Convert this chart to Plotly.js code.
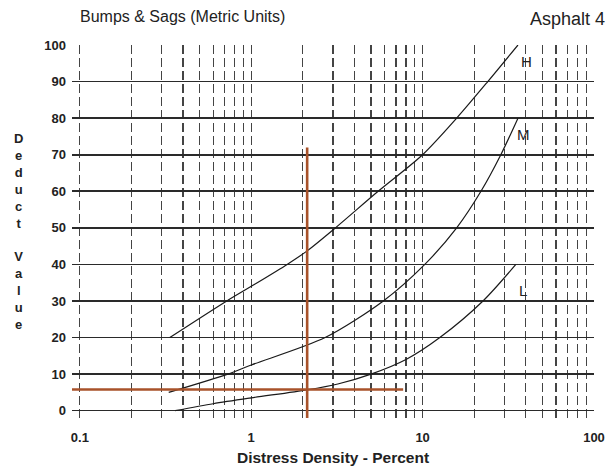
<!DOCTYPE html>
<html>
<head>
<meta charset="utf-8">
<script src="https://cdn.plot.ly/plotly-3.0.1.min.js"></script>
<style>html,body{margin:0;padding:0;background:#fff;}#chart{width:611px;height:470px;}</style>
</head>
<body>
<div id="chart"></div>
<script>
// Curve data (x = distress density %, y = deduct value)
const highX = [0.335, 0.72, 1.0, 1.62, 2.12, 3.1, 5.5, 10.0, 15.8, 24, 36];
const highY = [20, 30, 34, 40, 43.7, 50, 60, 70, 80, 90, 100];
const medX = [0.33, 0.73, 1.0, 2.7, 5.9, 10.3, 15.8, 21.9, 28.6, 36];
const medY = [5, 10, 12.5, 20, 30, 40, 50, 60, 70, 80];
const lowX = [0.36, 0.6, 1.0, 2.12, 3.2, 5.0, 8, 12.6, 22.5, 35];
const lowY = [0, 1.9, 3.5, 5.7, 7.3, 10, 14, 20, 30, 40];
// Reading construction lines (orange)
const readVertX = [2.12, 2.12];
const readVertY = [-2, 72];
const readHorzX = [0.09, 7.7];
const readHorzY = [5.8, 5.8];
// Severity labels
const sevLabels = ['H', 'M', 'L'];
const sevX = [40.5, 39, 38.5];
const sevY = [95.5, 75.5, 33];
// Axis ticks
const gridX = [];
[0.1, 1, 10].forEach(d => { for (let k = 1; k <= 9; k++) gridX.push(+(d * k).toFixed(3)); });
gridX.push(100);
const majorX = [0.1, 1, 10, 100];
const gridText = gridX.map(v => majorX.includes(v) ? String(v) : '');
const yTicks = [0, 10, 20, 30, 40, 50, 60, 70, 80, 90, 100];

const lineStyle = {color: '#1a1a1a', width: 1.2, shape: 'spline', smoothing: 0.8};
const orange = {color: '#a8522a', width: 2.6};

const traces = [
  {x: highX, y: highY, mode: 'lines', line: lineStyle, hoverinfo: 'skip'},
  {x: medX, y: medY, mode: 'lines', line: lineStyle, hoverinfo: 'skip'},
  {x: lowX, y: lowY, mode: 'lines', line: lineStyle, hoverinfo: 'skip'},
  {x: readVertX, y: readVertY, mode: 'lines', line: orange, hoverinfo: 'skip'},
  {x: readHorzX, y: readHorzY, mode: 'lines', line: orange, hoverinfo: 'skip'}
];

const font = {family: '"Liberation Sans", Arial, sans-serif', color: '#222'};

const annotations = sevLabels.map((t, i) => ({
  x: Math.log10(sevX[i]), y: sevY[i], xref: 'x', yref: 'y', text: t, showarrow: false,
  font: Object.assign({}, font, {size: 15})
}));
annotations.push({
  x: 1.024, xref: 'paper', y: 1, yref: 'paper', text: 'Asphalt 4', showarrow: false,
  xanchor: 'right', yanchor: 'bottom', yshift: 14, font: Object.assign({}, font, {size: 18})
});
annotations.push({
  x: -0.103, xref: 'paper', y: 0.5, yref: 'paper', xanchor: 'center', yanchor: 'middle',
  text: 'D<br>e<br>d<br>u<br>c<br>t<br> <br>V<br>a<br>l<br>u<br>e', showarrow: false,
  font: Object.assign({}, font, {size: 13, weight: 'bold'})
});

const layout = {
  width: 611, height: 470,
  margin: {l: 72, r: 17, t: 45, b: 52},
  paper_bgcolor: '#fff', plot_bgcolor: '#fff',
  showlegend: false,
  title: {text: 'Bumps &amp; Sags (Metric Units)', x: 80 / 611, xanchor: 'left', y: 0.965, yanchor: 'middle',
          font: Object.assign({}, font, {size: 16})},
  xaxis: {
    type: 'log', range: [Math.log10(0.09), 2],
    tickmode: 'array', tickvals: gridX, ticktext: gridText,
    showgrid: true, gridcolor: '#444', gridwidth: 1.3, griddash: '9px,4px',
    zeroline: false, showline: false, ticks: '', ticklabelstandoff: 10,
    tickfont: Object.assign({}, font, {size: 13, weight: 'bold'}),
    title: {text: 'Distress Density - Percent', standoff: 8, font: Object.assign({}, font, {size: 15.5, weight: 'bold'})}
  },
  yaxis: {
    range: [-2, 100], tickmode: 'array', tickvals: yTicks,
    showgrid: true, gridcolor: '#2a2a2a', gridwidth: 1.6,
    zeroline: false, showline: false, ticks: '', ticklabelstandoff: 5,
    tickfont: Object.assign({}, font, {size: 13, weight: 'bold'})
  },
  annotations: annotations
};

Plotly.newPlot('chart', traces, layout, {staticPlot: true});
</script>
</body>
</html>
